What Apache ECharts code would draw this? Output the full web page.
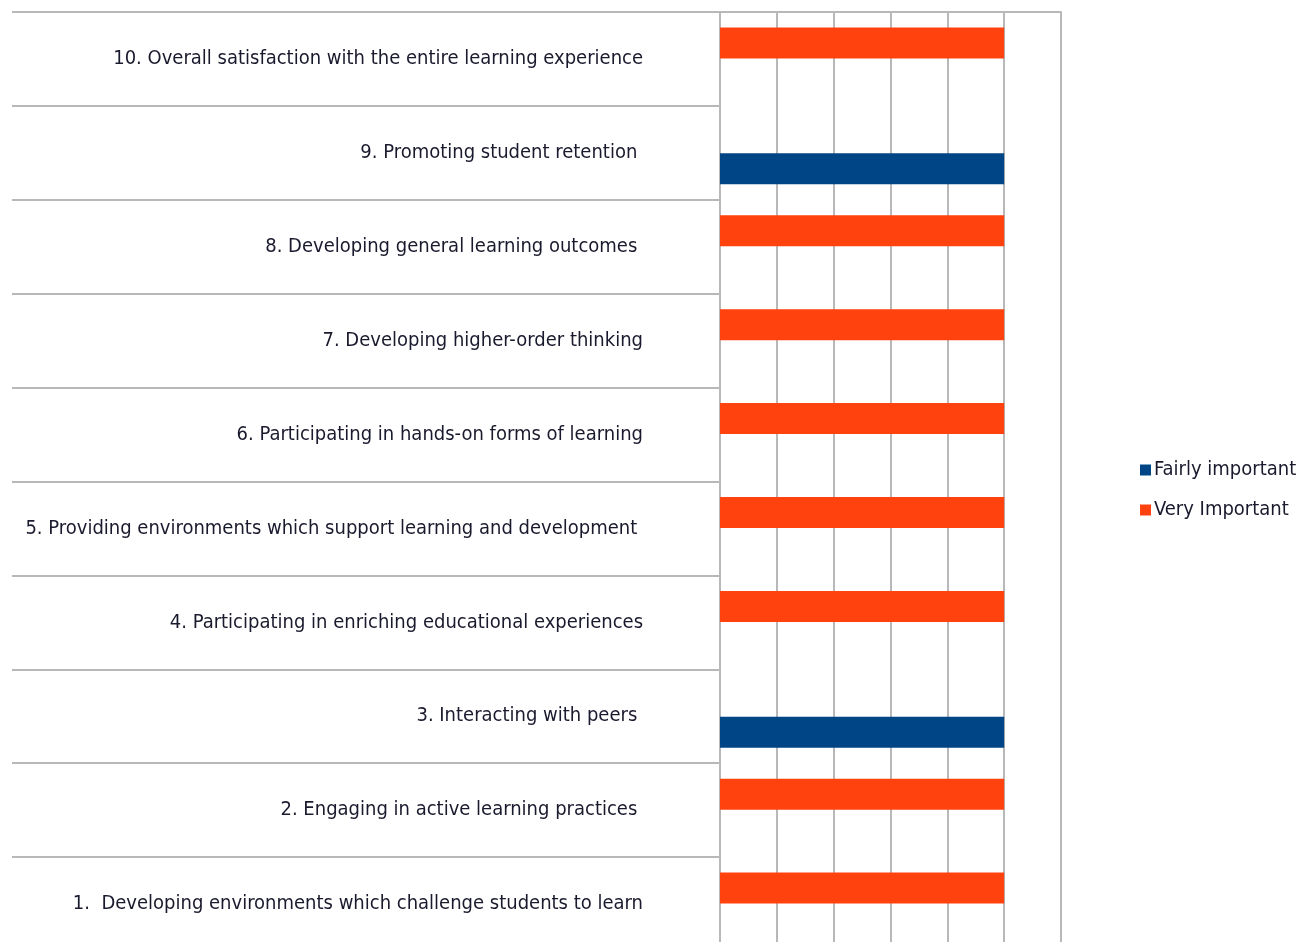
<!DOCTYPE html>
<html>
<head>
<meta charset="utf-8">
<script src="https://cdn.jsdelivr.net/npm/echarts@6/dist/echarts.min.js"></script>
<style>
  html, body { margin: 0; padding: 0; background: #ffffff; }
  #chart { width: 1312px; height: 942px; }
</style>
</head>
<body>
<div id="chart"></div>
<script>
// Survey items, listed bottom to top
const categories = [
  '1.  Developing environments which challenge students to learn',
  '2. Engaging in active learning practices ',
  '3. Interacting with peers ',
  '4. Participating in enriching educational experiences',
  '5. Providing environments which support learning and development ',
  '6. Participating in hands-on forms of learning',
  '7. Developing higher-order thinking',
  '8. Developing general learning outcomes ',
  '9. Promoting student retention ',
  '10. Overall satisfaction with the entire learning experience'
];
const seriesNames = ['Fairly important', 'Very Important'];
const fairlyImportant = [null, null, 5, null, null, null, null, null, 5, null];
const veryImportant = [5, 5, null, 5, 5, 5, 5, 5, null, 5];
const xTicks = [0, 1, 2, 3, 4, 5, 6];

const FONT = '"Liberation Sans Narrow", "DejaVu Sans Condensed", "Liberation Sans", sans-serif';
const GRID_GRAY = '#b8b8b8';
const TEXT = '#1a1a2e';

const chart = echarts.init(document.getElementById('chart'));
chart.setOption({
  animation: false,
  backgroundColor: '#ffffff',
  grid: {
    left: 720, right: 251, top: 12, bottom: -9,
    containLabel: false,
    outerBoundsMode: 'none'
  },
  legend: {
    orient: 'vertical',
    left: 1135,
    top: 455,
    itemWidth: 11,
    itemHeight: 11,
    itemGap: 20,
    icon: 'rect',
    textStyle: { fontFamily: FONT, fontSize: 20, color: TEXT, padding: [0, 0, 0, -2] },
    data: seriesNames
  },
  xAxis: {
    type: 'value',
    position: 'top',
    min: xTicks[0],
    max: xTicks[xTicks.length - 1],
    interval: 1,
    axisLine: { show: true, lineStyle: { color: GRID_GRAY, width: 2 } },
    axisTick: { show: false },
    axisLabel: { show: false },
    splitLine: { show: true, lineStyle: { color: GRID_GRAY, width: 2 } }
  },
  yAxis: {
    type: 'category',
    data: categories,
    axisLine: { show: false },
    axisTick: {
      show: true,
      interval: 0,
      inside: false,
      length: 708,
      lineStyle: { color: GRID_GRAY, width: 2 }
    },
    axisLabel: {
      interval: 0,
      margin: 77,
      fontFamily: FONT,
      fontSize: 20,
      color: TEXT
    },
    splitLine: { show: false }
  },
  // "Very Important" is listed first so it takes the upper slot of each row
  series: [
    {
      name: seriesNames[1],
      type: 'bar',
      data: veryImportant,
      barWidth: 31,
      barGap: '3%',
      itemStyle: { color: '#ff420e' }
    },
    {
      name: seriesNames[0],
      type: 'bar',
      data: fairlyImportant,
      barWidth: 31,
      barGap: '3%',
      itemStyle: { color: '#004586' }
    }
  ]
});
</script>
</body>
</html>
